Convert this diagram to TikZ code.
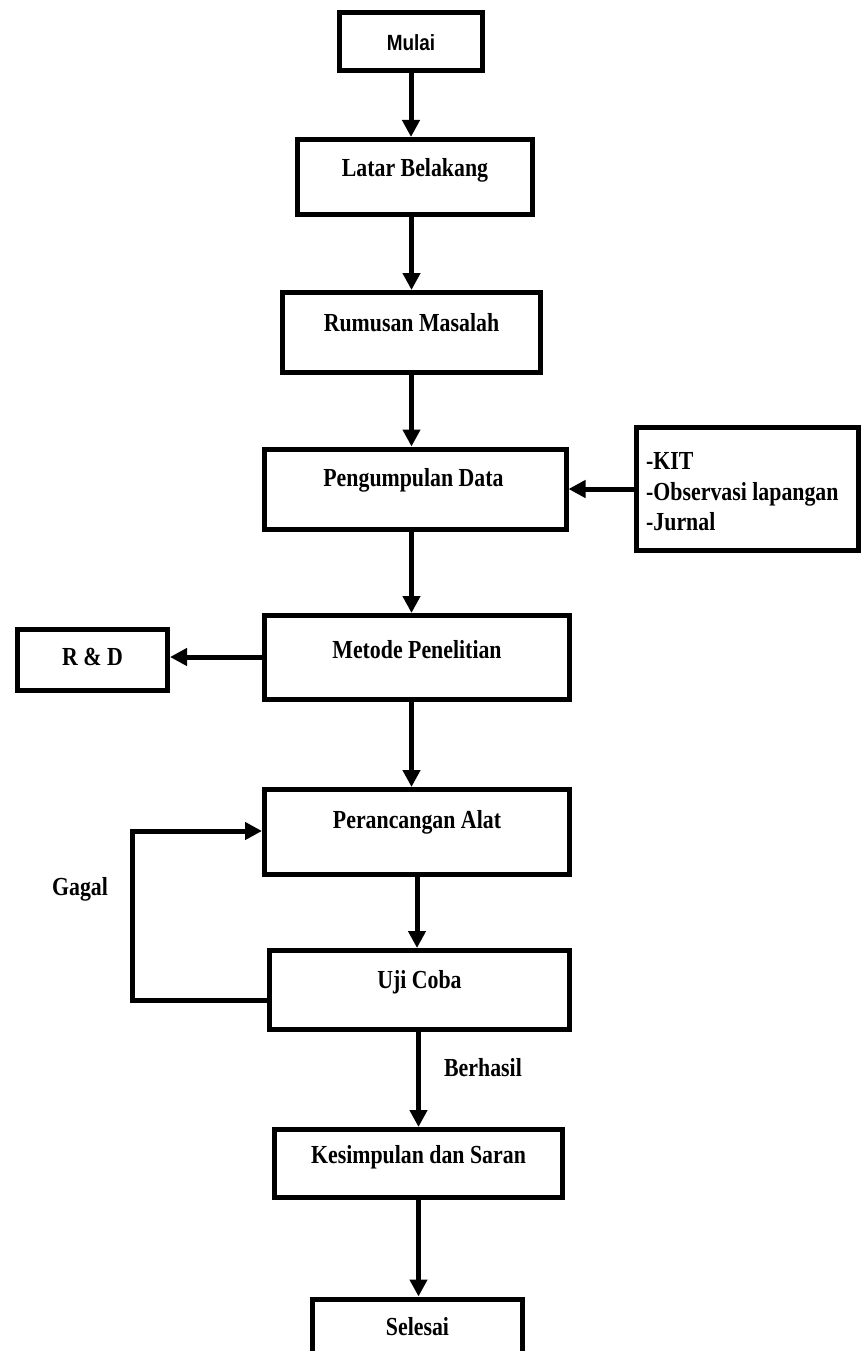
\documentclass[tikz,border=0pt]{standalone}
\usepackage{fontspec}
\setmainfont{Liberation Serif}[FakeStretch=0.84]
\newfontfamily\mulaifont{Liberation Sans}[FakeStretch=0.86]
\usetikzlibrary{arrows.meta}
\begin{document}
\begin{tikzpicture}[x=1pt,y=-1pt,
  box/.style={draw=black, line width=5pt, rectangle, inner sep=0pt, fill=white},
  lbl/.style={inner sep=0pt, font=\fontsize{26}{30}\selectfont\bfseries},
  arr/.style={line width=5pt, -{Triangle[length=17pt,width=17pt]}},
  ln/.style={line width=5pt}]
\useasboundingbox[fill=white] (0,0) rectangle (863,1351);
% boxes
\node[box, minimum width=143pt, minimum height=58pt] (mulai) at (411,41.5) {};
\node[inner sep=0pt, font=\fontsize{22}{25}\selectfont\mulaifont\bfseries] (mulait) at (411,43) {Mulai};
\node[box, minimum width=235pt, minimum height=75pt] (latar) at (415,177) {};
\node[lbl] (latart) at (415,170) {Latar Belakang};
\node[box, minimum width=258pt, minimum height=80pt] (rumusan) at (411.5,332.5) {};
\node[lbl] (rumusant) at (411.5,323) {Rumusan Masalah};
\node[box, minimum width=302pt, minimum height=80pt] (pengumpulan) at (415,489) {};
\node[lbl] (pengumpulant) at (413.5,480) {Pengumpulan Data};
\node[box, minimum width=222pt, minimum height=123pt] (kit) at (747,489) {};
\node[lbl, align=left, anchor=west, font=\fontsize{26}{30.5}\selectfont\bfseries] (kitt) at (646,492) {-KIT\\-Observasi lapangan\\-Jurnal};
\node[box, minimum width=305pt, minimum height=84pt] (metode) at (417,657.5) {};
\node[lbl] (metodet) at (417,650) {Metode Penelitian};
\node[box, minimum width=150pt, minimum height=61pt] (rnd) at (92.5,660) {};
\node[lbl] (rndt) at (92.5,657) {R \& D};
\node[box, minimum width=305pt, minimum height=85pt] (perancangan) at (417,832) {};
\node[lbl] (perancangant) at (417,822) {Perancangan Alat};
\node[box, minimum width=300pt, minimum height=79pt] (uji) at (419.5,990) {};
\node[lbl] (ujit) at (419.5,982) {Uji Coba};
\node[box, minimum width=288pt, minimum height=68pt] (kesimpulan) at (418.5,1163.5) {};
\node[lbl] (kesimpulant) at (418.5,1157) {Kesimpulan dan Saran};
\node[box, minimum width=210pt, minimum height=62pt] (selesai) at (417.5,1330) {};
\node[lbl] (selesait) at (417.5,1327) {Selesai};
% labels
\node[lbl] (gagal) at (80,889) {Gagal};
\node[lbl] (berhasil) at (483,1068) {Berhasil};
% connectors
\draw[arr] (mulai.south) -- (mulai.south |- latar.north);
\draw[arr] (latar.south -| rumusan.north) -- (rumusan.north);
\draw[arr] (rumusan.south) -- (rumusan.south |- pengumpulan.north);
\draw[arr] (rumusan.south |- pengumpulan.south) -- (rumusan.south |- metode.north);
\draw[arr] (kit.west) -- (pengumpulan.east |- kit.west);
\draw[arr] (metode.west |- rnd.east) ++(0,-3) coordinate (mw) -- (rnd.east |- mw);
\draw[arr] (metode.south -| rumusan.south) -- (rumusan.south |- perancangan.north);
\draw[arr] (perancangan.south) -- (perancangan.south |- uji.north);
\draw[arr] (uji.south -| kesimpulan.north) -- (kesimpulan.north);
\draw[arr] (kesimpulan.south) -- (kesimpulan.south |- selesai.north);
\coordinate (loopL) at (132,1000);
\draw[arr] (uji.west |- loopL) -- (loopL) |- (perancangan.west |- 0,831);
\end{tikzpicture}
\end{document}
